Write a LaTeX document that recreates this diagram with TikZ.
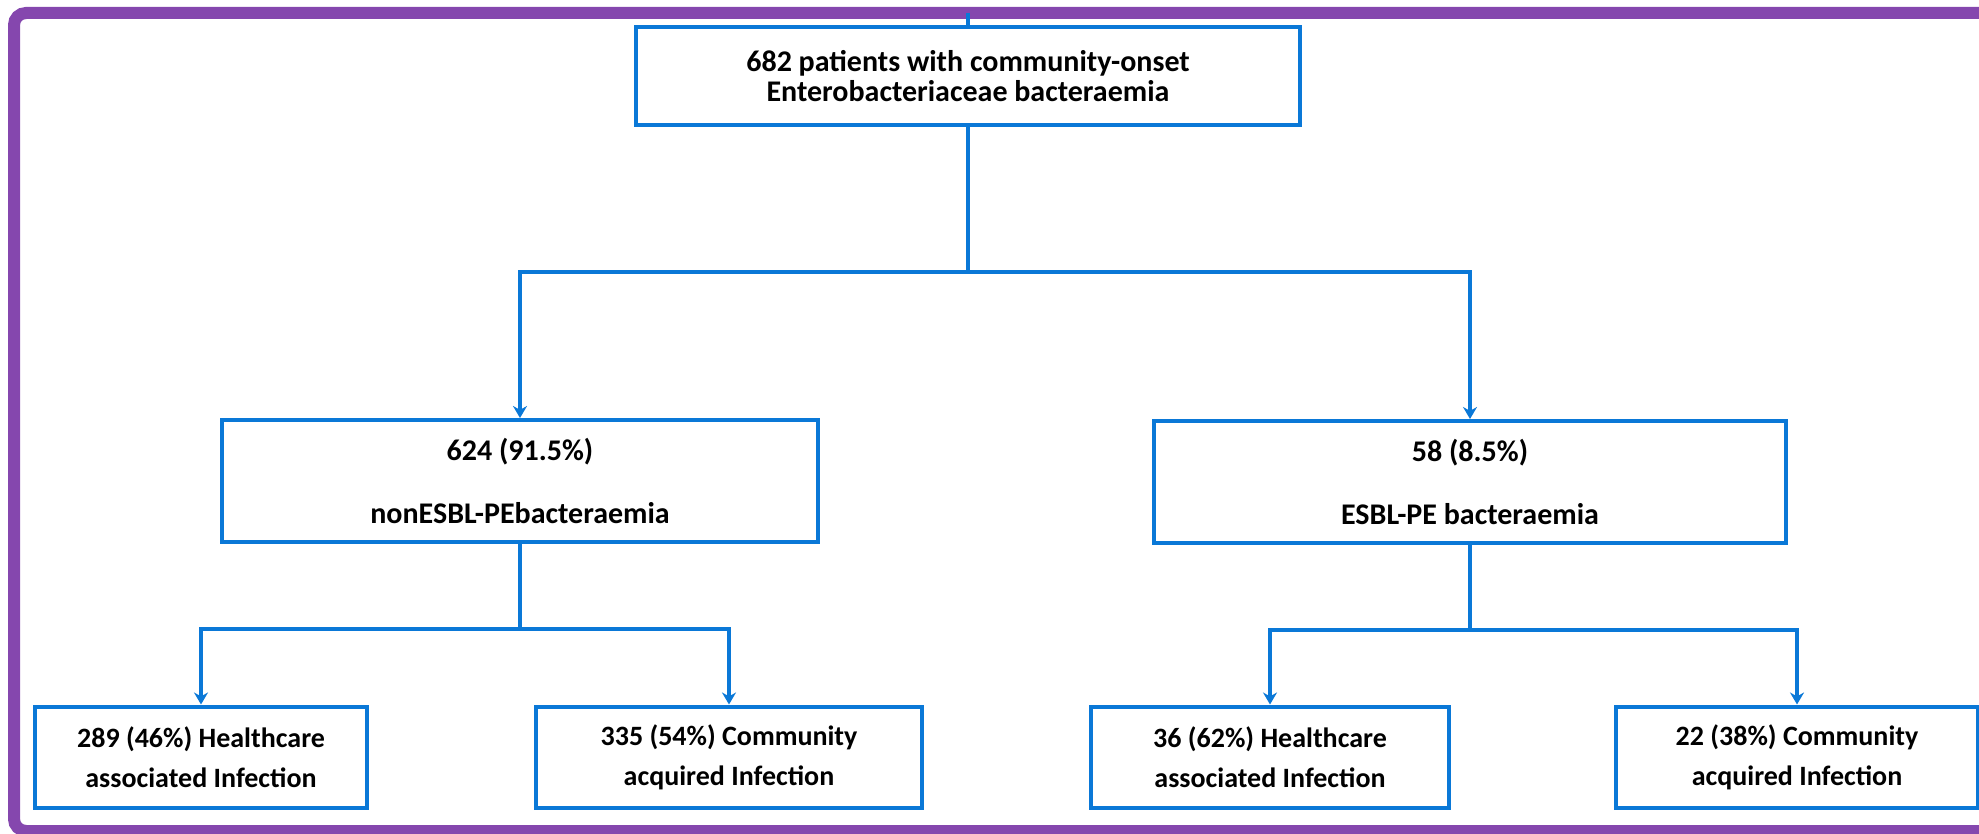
\documentclass[tikz,border=0pt]{standalone}
\usepackage{fontspec}
\setmainfont{Carlito}
\usetikzlibrary{arrows.meta, positioning}
\definecolor{framepurple}{RGB}{133,71,174}
\definecolor{boxblue}{RGB}{10,120,215}

\begin{document}
\begin{tikzpicture}[x=0.5pt, y=-0.5pt, on grid,
	main/.style = {draw=boxblue, line width=2pt, fill=white, align=center, inner sep=0pt, minimum height=50.5pt, font=\bfseries\fontsize{14}{20}\selectfont},
	split/.style = {main, minimum height=61pt, font=\bfseries\fontsize{15}{31.5}\selectfont},
	link/.style = {draw=boxblue, line width=1.8pt, -{Stealth[length=6pt, width=7pt]}}]
	\useasboundingbox (0,0) rectangle (1979,834);
	\draw[framepurple, line width=6pt, rounded corners=6pt] (2000,13) -- (14,13) -- (14,831) -- (2000,831);
	\coordinate (edge) at (968,13);
	\node[main, minimum width=332pt, minimum height=49pt, font=\bfseries\fontsize{15}{15}\selectfont] (top) at (968,76) {682 patients with community-onset\\Enterobacteriaceae bacteraemia};
	\node[split, minimum width=298pt] (nonesbl) [below left=202.5pt and 224pt of top] {624 (91.5\%)\\nonESBL-PEbacteraemia};
	\node[split, minimum width=316pt] (esbl) [below right=203pt and 251pt of top] {58 (8.5\%)\\ESBL-PE bacteraemia};
	\node[main, minimum width=166pt] (nonhca) [below left=138pt and 159.5pt of nonesbl] {289 (46\%) Healthcare\\associated Infection};
	\node[main, minimum width=193pt] (noncai) [below right=138pt and 104.5pt of nonesbl] {335 (54\%) Community\\acquired Infection};
	\node[main, minimum width=179pt] (esblhca) [below left=137.5pt and 100pt of esbl] {36 (62\%) Healthcare\\associated Infection};
	\node[main, minimum width=181pt] (esblcai) [below right=137.5pt and 163.5pt of esbl] {22 (38\%) Community\\acquired Infection};
	\draw[boxblue, line width=1.8pt] (edge) -- (top.north);
	\foreach \from/\to/\drop in {top/nonesbl/145, top/esbl/145, nonesbl/nonhca/85, nonesbl/noncai/85, esbl/esblhca/85, esbl/esblcai/85}
		\draw[link] (\from.south) -- ++(0,\drop) -| (\to.north);
\end{tikzpicture}
\end{document}
